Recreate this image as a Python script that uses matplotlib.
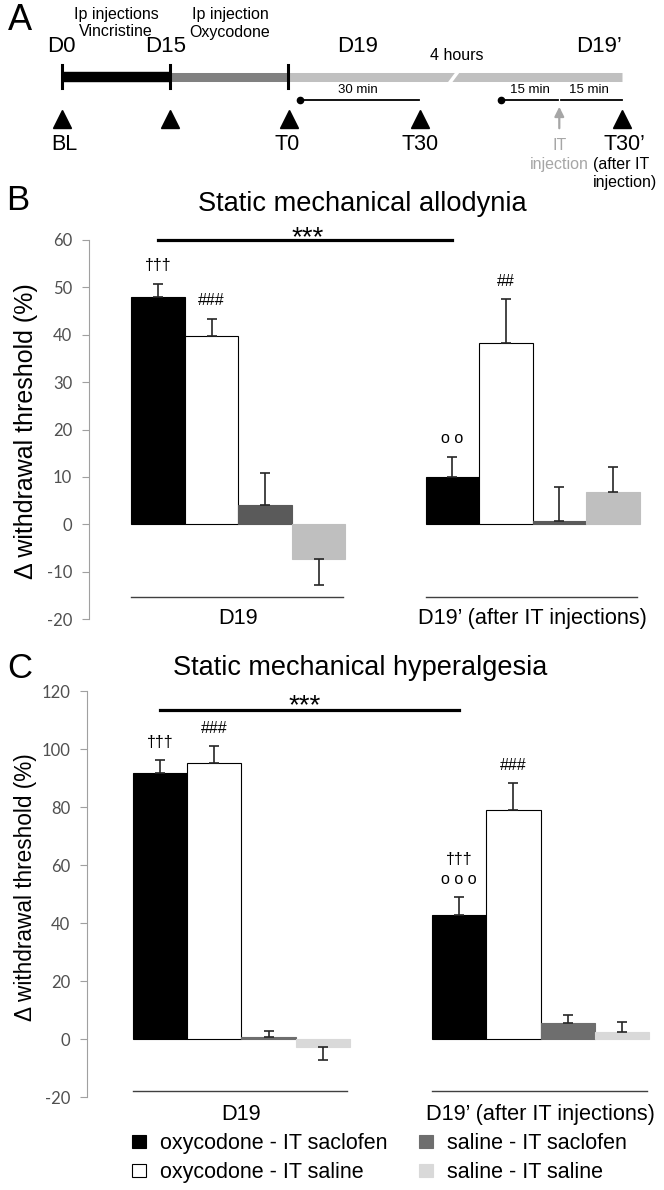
import matplotlib.pyplot as plt
import numpy as np

plt.rcParams["font.family"] = ["Liberation Sans", "DejaVu Sans"]
plt.rcParams["axes.unicode_minus"] = False

W, H = 664, 1190

treatments = ["oxycodone - IT saclofen", "oxycodone - IT saline",
              "saline - IT saclofen", "saline - IT saline"]
groups = ["D19", "D19\u2019 (after IT injections)"]

# B : static mechanical allodynia (mean, sem) at D19 and D19'
allo_d19 = [48.0, 39.8, 4.0, -7.3]
allo_d19_err = [2.8, 3.6, 6.8, 5.6]
allo_d19p = [10.0, 38.3, 0.6, 6.9]
allo_d19p_err = [4.3, 9.2, 7.2, 5.1]
allo_marks = [["\u2020\u2020\u2020", "###", "", ""], ["o o", "##", "", ""]]

# C : static mechanical hyperalgesia
hyper_d19 = [91.8, 95.2, 0.6, -2.9]
hyper_d19_err = [4.5, 5.9, 2.3, 4.4]
hyper_d19p = [42.6, 79.0, 5.4, 2.5]
hyper_d19p_err = [6.2, 9.3, 2.9, 3.4]
hyper_marks = [["\u2020\u2020\u2020", "###", "", ""], ["\u2020\u2020\u2020\no o o", "###", "", ""]]

fig = plt.figure(figsize=(W / 100, H / 100), dpi=100)


def fx(x):
    return x / W


def fy(y):
    return 1 - y / H


# ---------------- panel A : timeline ----------------
ta = fig.add_axes([0, fy(190), 1, 190 / H])
ta.set_xlim(0, W)
ta.set_ylim(190, 0)
ta.axis("off")

ta.plot([61.7, 170], [77, 77], color="black", lw=7.5, solid_capstyle="butt")
ta.plot([170, 288], [77, 77], color="#808080", lw=6.5, solid_capstyle="butt")
ta.plot([288, 622], [77, 77], color="#c0c0c0", lw=6.5, solid_capstyle="butt")
ta.plot([448, 460], [85, 69], color="white", lw=2.5)
for x in [61.7, 170, 288]:
    ta.plot([x, x], [65, 88], color="black", lw=2.2)

ta.plot([300, 419], [100, 100], color="black", lw=1.3)
ta.plot([500.7, 558.3], [100, 100], color="black", lw=1.3)
ta.plot([560.5, 622], [100, 100], color="black", lw=1.3)
ta.plot([300, 500.7], [100, 100], "o", color="black", ms=4.5)

for x in [61.7, 170, 289, 420, 622]:
    ta.plot(x, 118.5, marker="^", ms=13, color="black")
ta.annotate("", xy=(559.3, 104), xytext=(559.3, 131),
            arrowprops=dict(arrowstyle="-|>", color="#a6a6a6", lw=1.6, mutation_scale=14))

ta.text(19.5, 21, "A", fontsize=26, ha="center", va="center")
ta.text(116, 15, "Ip injections", fontsize=11.5, ha="center", va="center")
ta.text(116, 32, "Vincristine", fontsize=11.5, ha="center", va="center")
ta.text(230, 15, "Ip injection", fontsize=11.5, ha="center", va="center")
ta.text(230, 32, "Oxycodone", fontsize=11.5, ha="center", va="center")
for x, s in zip([61, 166, 357.5, 599], ["D0", "D15", "D19", "D19\u2019"]):
    ta.text(x, 47, s, fontsize=16, ha="center", va="center")
ta.text(457, 56, "4 hours", fontsize=11.5, ha="center", va="center")
ta.text(358, 90, "30 min", fontsize=9.5, ha="center", va="center")
ta.text(530, 90, "15 min", fontsize=9.5, ha="center", va="center")
ta.text(589, 90, "15 min", fontsize=9.5, ha="center", va="center")
for x, s in zip([64, 287, 420, 624], ["BL", "T0", "T30", "T30\u2019"]):
    ta.text(x, 145, s, fontsize=15.5, ha="center", va="center")
ta.text(560, 145, "IT", fontsize=11.5, ha="center", va="center", color="#a6a6a6")
ta.text(559, 164, "injection", fontsize=11.5, ha="center", va="center", color="#a6a6a6")
ta.text(621, 164, "(after IT", fontsize=11.5, ha="center", va="center")
ta.text(625, 182, "injection)", fontsize=11.5, ha="center", va="center")


# ---------------- bar panels ----------------
def bar_panel(left, right, top, bottom, bw, first, ylim, yticks,
              data, colors, marks, line_y, label_y, sig_y, star_y, star_x):
    ax = fig.add_axes([fx(left), fy(bottom), (right - left) / W, (bottom - top) / H])
    x0 = -0.5 - (first - left) / bw
    ax.set_xlim(x0, x0 + (right - left) / bw)
    ax.set_ylim(*ylim)
    conts = []
    for g, (means, errs) in enumerate(data):
        xs = np.arange(4) + 5.5 * g
        edges = ["black", "black", colors[2], colors[3]]
        c = ax.bar(xs, means, width=1.0, color=colors, edgecolor=edges, linewidth=0.8)
        conts.append(c)
        lo = [e if m < 0 else 0 for m, e in zip(means, errs)]
        hi = [e if m >= 0 else 0 for m, e in zip(means, errs)]
        ax.errorbar(xs, means, yerr=[lo, hi], fmt="none", ecolor="#262626",
                    elinewidth=1.2, capsize=3.6, capthick=1.2)
        for x, m, e, mk in zip(xs, means, errs, marks[g]):
            off = 9.5
            for line in mk.split("\n")[::-1]:
                ax.annotate(line, (x, m + e), xytext=(0, off), textcoords="offset points",
                            ha="center", va="baseline", fontsize=11.5)
                off += 14.5
        ax.plot([5.5 * g - 0.5, 5.5 * g + 3.45], [line_y, line_y], color="#404040",
                lw=1.0, clip_on=False)
        ax.text(5.5 * g + 1.5, label_y, groups[g], ha="center", va="center", fontsize=15.7)
    ax.plot([0, 5.5], [sig_y, sig_y], color="black", lw=2.3, clip_on=False)
    ax.text(star_x, star_y, "***", ha="center", va="baseline", fontsize=20)

    for s in ["top", "right", "bottom"]:
        ax.spines[s].set_visible(False)
    ax.spines["left"].set_color("#a0a0a0")
    ax.set_xticks([])
    ax.set_yticks(yticks)
    ax.tick_params(axis="y", length=5, color="#a0a0a0", labelcolor="#505050",
                   labelsize=12, pad=7)
    for lbl in ax.get_yticklabels():
        lbl.set_fontfamily("Lato")
    return ax, conts


axb, _ = bar_panel(88.9, 655, 240, 619, 53.5, 131.3, (-20, 60), range(-20, 61, 10),
                   [(allo_d19, allo_d19_err), (allo_d19p, allo_d19p_err)],
                   ["black", "white", "#5a5a5a", "#bfbfbf"], allo_marks,
                   -15.4, -19.8, 59.9, 58.8, 2.79)
axc, conts = bar_panel(86.8, 660, 691, 1097, 54.4, 132.6, (-20, 120), range(-20, 121, 20),
                       [(hyper_d19, hyper_d19_err), (hyper_d19p, hyper_d19p_err)],
                       ["black", "white", "#6e6e6e", "#d9d9d9"], hyper_marks,
                       -17.9, -25.9, 113.6, 112.4, 2.67)

fig.text(fx(18), fy(200.5), "B", fontsize=25, ha="center", va="center")
fig.text(fx(362), fy(204), "Static mechanical allodynia", fontsize=19.6, ha="center", va="center")
fig.text(fx(20), fy(669), "C", fontsize=25, ha="center", va="center")
fig.text(fx(360), fy(668), "Static mechanical hyperalgesia", fontsize=19.5, ha="center", va="center")
fig.text(fx(26), fy(431.5), "\u0394 withdrawal threshold (%)", rotation=90,
         fontsize=18, ha="center", va="center")
fig.text(fx(26), fy(887), "\u0394 withdrawal threshold (%)", rotation=90,
         fontsize=16.3, ha="center", va="center")

fig.legend(conts[0].patches, treatments, ncol=2, loc="upper left",
           bbox_to_anchor=(fx(132), fy(1133)), bbox_transform=fig.transFigure,
           frameon=False, fontsize=15.5, handlelength=0.65, handleheight=0.6,
           handletextpad=0.65, columnspacing=1.45, labelspacing=0.38,
           borderpad=0, borderaxespad=0)

fig.savefig("out.png", dpi=100)
